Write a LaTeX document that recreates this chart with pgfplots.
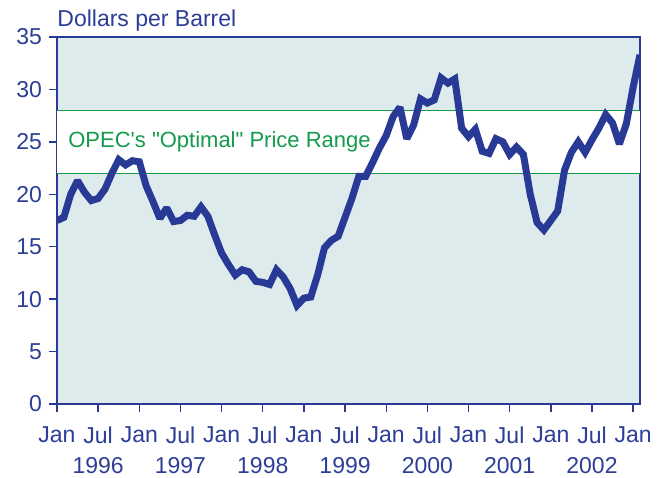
\documentclass[border=0pt]{standalone}
\usepackage{fontspec}
\setmainfont{Liberation Sans}
\newfontfamily\arial{Liberation Sans}
\usepackage{pgfplots}
\pgfplotsset{compat=1.18}
\definecolor{eiaBlue}{RGB}{40,58,150}
\definecolor{eiaText}{RGB}{44,62,150}
\definecolor{eiaGreen}{RGB}{20,155,75}
\definecolor{plotBg}{RGB}{221,235,236}

\begin{document}
\begin{tikzpicture}
\path[use as bounding box] (-28.5pt,-36.5pt) rectangle (303pt,202pt);
\begin{axis}[
  at={(0,0)}, anchor=south west,
  scale only axis, width=291.5pt, height=183.5pt,
  xmin=0, xmax=85, ymin=0, ymax=35,
  axis background/.style={fill=plotBg},
  axis line style={eiaBlue, line width=0.7pt},
  tick style={eiaBlue, line width=0.7pt},
  major tick length=4pt,
  tick align=outside,
  xtick pos=left, ytick pos=left,
  xtick={0,6,...,84},
  xticklabels={Jan,{Jul\\1996},Jan,{Jul\\1997},Jan,{Jul\\1998},Jan,{Jul\\1999},
               Jan,{Jul\\2000},Jan,{Jul\\2001},Jan,{Jul\\2002},Jan},
  xticklabel style={align=center, anchor=north, yshift=-4pt,
                    font=\fontsize{11.5}{15}\selectfont, text=eiaText},
  ytick={0,5,...,35},
  yticklabel style={font=\fontsize{11.5}{14}\selectfont, text=eiaText},
  /pgf/number format/assume math mode=true,
]
% OPEC band
\fill[white] (axis cs:0,22) rectangle (axis cs:85,28);
\draw[eiaGreen, line width=0.75pt] (axis cs:0,22) -- (axis cs:85,22);
\draw[eiaGreen, line width=0.75pt] (axis cs:0,28) -- (axis cs:85,28);
\node[anchor=base west, inner sep=0, text=eiaGreen,
      font=\arial\fontsize{11}{13}\selectfont]
  at (axis cs:1.6,24.5) {OPEC's "Optimal" Price Range};

% monthly price, Jan 1996 = 0
\addplot[eiaBlue, line width=3.5pt, line join=miter, miter limit=2, mark=none]
coordinates {
  (0,17.5)(1,17.8)(2,20.0)(3,21.3)(4,20.2)(5,19.4)(6,19.6)(7,20.5)
  (8,22.0)(9,23.3)(10,22.8)(11,23.2)
  (12,23.1)(13,20.8)(14,19.3)(15,17.7)(16,18.7)(17,17.4)(18,17.5)(19,18.0)
  (20,17.9)(21,18.8)(22,17.9)(23,16.1)
  (24,14.4)(25,13.3)(26,12.3)(27,12.8)(28,12.6)(29,11.7)(30,11.6)(31,11.4)
  (32,12.8)(33,12.1)(34,11.0)(35,9.4)
  (36,10.1)(37,10.2)(38,12.3)(39,14.9)(40,15.6)(41,16.0)(42,17.8)(43,19.6)
  (44,21.7)(45,21.7)(46,23.0)(47,24.4)
  (48,25.6)(49,27.4)(50,28.3)(51,25.3)(52,26.6)(53,29.1)(54,28.7)(55,29.0)
  (56,31.1)(57,30.6)(58,31.0)(59,26.3)
  (60,25.5)(61,26.2)(62,24.1)(63,23.9)(64,25.3)(65,25.0)(66,23.8)(67,24.5)
  (68,23.8)(69,20.0)(70,17.3)(71,16.6)
  (72,17.5)(73,18.4)(74,22.3)(75,24.0)(76,25.0)(77,24.0)(78,25.2)(79,26.3)
  (80,27.6)(81,26.8)(82,24.8)(83,26.7)
  (84,30.2)(85,33.3)
};
\end{axis}
\node[anchor=base west, inner sep=0, text=eiaText,
      font=\fontsize{11.5}{14}\selectfont] at (0,188.5pt) {Dollars per Barrel};
\end{tikzpicture}
\end{document}
